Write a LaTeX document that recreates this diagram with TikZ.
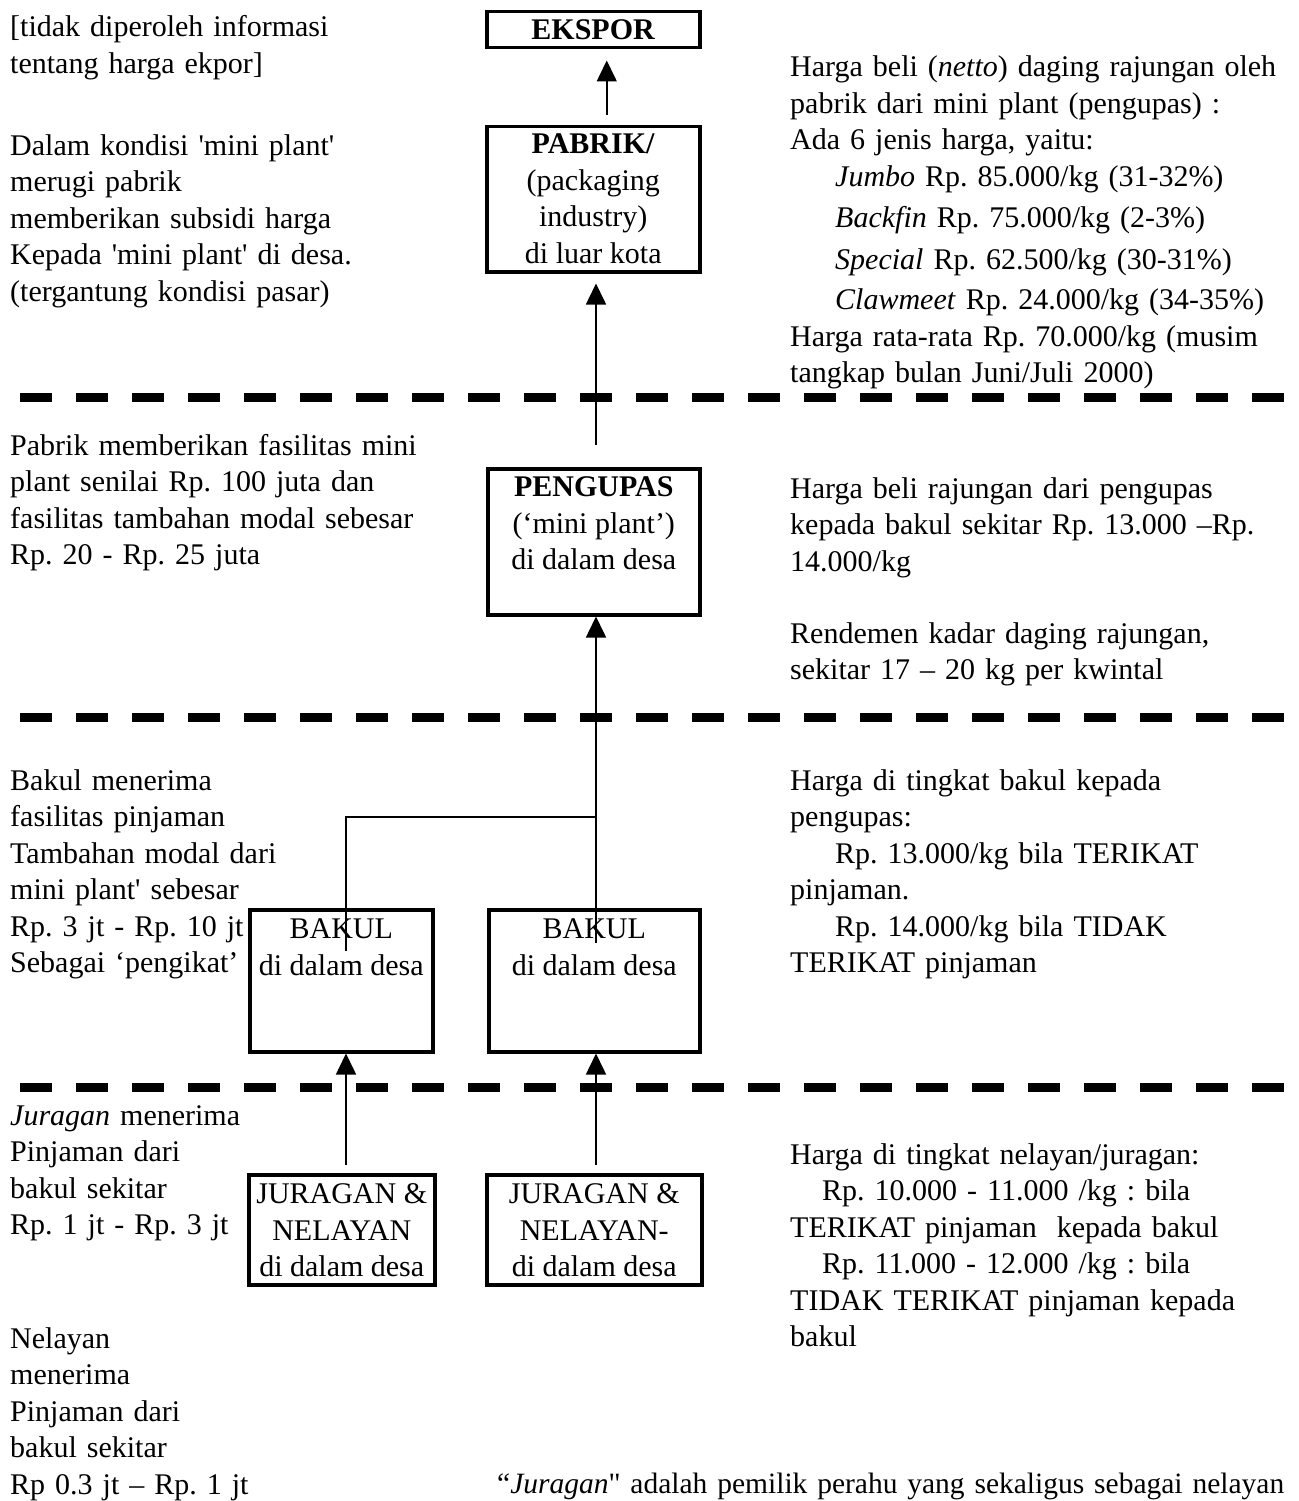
\documentclass[tikz,border=0pt]{standalone}
\usepackage{fontspec}
\setmainfont{Liberation Serif}
\usetikzlibrary{arrows.meta}
\frenchspacing
\newcommand{\rkfont}{\fontsize{30}{36.5}\selectfont}
\newcommand{\ptk}{\textquotesingle}
\newcommand{\isikotak}[4]{\parbox[t][#2][t]{#1}{\centering\rule{0pt}{#3}#4}}
\tikzset{
 rk kotak/.style={draw,line width=3.5pt,inner sep=0pt,anchor=north west,font=\rkfont},
 rk teks/.style={inner sep=0pt,anchor=base west,text width=560pt,align=left,font=\rkfont},
 rk garis/.style={line width=1.6pt},
 rk panah/.style={rk garis,-{Triangle[width=20pt,length=21pt]}},
 rk batas/.style={line width=9pt,dash pattern=on 32pt off 24pt}
}

\begin{document}
\begin{tikzpicture}[x=1pt,y=-1pt]
 \useasboundingbox (0,0) rectangle (1298,1501);
 \node[rk kotak] (ekspor) at (485,10) {\isikotak{213pt}{36pt}{28pt}{\textbf{EKSPOR}}};
 \node[rk kotak] (pabrik) at (485,125) {\isikotak{213pt}{145pt}{27pt}{\textbf{PABRIK/}\\(packaging\\industry)\\di luar kota}};
 \node[rk kotak] (pengupas) at (486,467) {\isikotak{212pt}{146pt}{28pt}{\textbf{PENGUPAS}\\(‘mini plant’)\\di dalam desa}};
 \node[rk kotak] (bakulA) at (248,908) {\isikotak{183pt}{142pt}{29pt}{BAKUL\\di dalam desa}};
 \node[rk kotak] (bakulB) at (487,908) {\isikotak{211pt}{142pt}{29pt}{BAKUL\\di dalam desa}};
 \node[rk kotak] (juraganA) at (247,1173) {\isikotak{186pt}{110pt}{29pt}{JURAGAN \&\\NELAYAN\\di dalam desa}};
 \node[rk kotak] (juraganB) at (485,1173) {\isikotak{215pt}{110pt}{29pt}{JURAGAN \&\\NELAYAN-\\di dalam desa}};

 \node[rk teks] (kiri1) at (10,37) {[tidak diperoleh informasi\\tentang harga ekpor]};
 \node[rk teks] (kiri2) at (10,155) {Dalam kondisi \ptk mini plant\ptk\\merugi pabrik\\memberikan subsidi harga\\Kepada \ptk mini plant\ptk{} di desa.\\(tergantung kondisi pasar)};
 \node[rk teks] (kanan1) at (790,77) {Harga beli (\textit{netto}) daging rajungan oleh\\pabrik dari mini plant (pengupas) :\\Ada 6 jenis harga, yaitu:\\
  \hspace*{45pt}\textit{Jumbo} Rp. 85.000/kg (31-32\%)\\[5pt]
  \hspace*{45pt}\textit{Backfin} Rp. 75.000/kg (2-3\%)\\[5pt]
  \hspace*{45pt}\textit{Special} Rp. 62.500/kg (30-31\%)\\[4pt]
  \hspace*{45pt}\textit{Clawmeet} Rp. 24.000/kg (34-35\%)\\
  Harga rata-rata Rp. 70.000/kg (musim\\tangkap bulan Juni/Juli 2000)};
 \node[rk teks] (kiri3) at (10,455) {Pabrik memberikan fasilitas mini\\plant senilai Rp. 100 juta dan\\fasilitas tambahan modal sebesar\\Rp. 20 - Rp. 25 juta};
 \node[rk teks] (kanan2) at (790,498) {Harga beli rajungan dari pengupas\\kepada bakul sekitar Rp. 13.000 –Rp.\\14.000/kg};
 \node[rk teks] (kanan3) at (790,643) {Rendemen kadar daging rajungan,\\sekitar 17 – 20 kg per kwintal};
 \node[rk teks] (kiri4) at (10,790) {Bakul menerima\\fasilitas pinjaman\\Tambahan modal dari\\mini plant\ptk{} sebesar\\Rp. 3 jt - Rp. 10 jt\\Sebagai ‘pengikat’};
 \node[rk teks] (kanan4) at (790,790) {Harga di tingkat bakul kepada\\pengupas:\\\hspace*{45pt}Rp. 13.000/kg bila TERIKAT\\pinjaman.\\\hspace*{45pt}Rp. 14.000/kg bila TIDAK\\TERIKAT pinjaman};
 \node[rk teks] (kiri5) at (10,1125) {\textit{Juragan} menerima\\Pinjaman dari\\bakul sekitar\\Rp. 1 jt - Rp. 3 jt};
 \node[rk teks] (kanan5) at (790,1164) {Harga di tingkat nelayan/juragan:\\\hspace*{32pt}Rp. 10.000 - 11.000 /kg : bila\\TERIKAT pinjaman\ \ kepada bakul\\\hspace*{32pt}Rp. 11.000 - 12.000 /kg : bila\\TIDAK TERIKAT pinjaman kepada\\bakul};
 \node[rk teks] (kiri6) at (10,1348) {Nelayan\\menerima\\Pinjaman dari\\bakul sekitar\\Rp 0.3 jt – Rp. 1 jt};
 \node[rk teks,text width=820pt,font=\fontsize{29.5}{36.5}\selectfont] (catatan) at (497,1493) {“\textit{Juragan}\textquotedbl{} adalah pemilik perahu yang sekaligus sebagai nelayan};

 \foreach \yb in {397,717,1087} \draw[rk batas] (20,\yb)--(1290,\yb);

 \coordinate (cabang) at (596,817);
 \coordinate (ujungA) at (346,951);
 \coordinate (ujungB) at (596,943);
 \draw[rk panah,shorten <=10pt,shorten >=11pt] ([xshift=13.5pt]pabrik.north)--([xshift=13.5pt]ekspor.south);
 \draw[rk panah,shorten <=22pt,shorten >=10pt] (pengupas.north -| cabang)--(pabrik.south -| cabang);
 \draw[rk panah] (ujungB)--(pengupas.south -| ujungB);
 \draw[rk garis] (ujungA) |- (cabang);
 \draw[rk panah,shorten <=8pt] (juraganA.north -| ujungA)--(bakulA.south -| ujungA);
 \draw[rk panah,shorten <=8pt] (juraganB.north -| ujungB)--(bakulB.south -| ujungB);
\end{tikzpicture}
\end{document}
